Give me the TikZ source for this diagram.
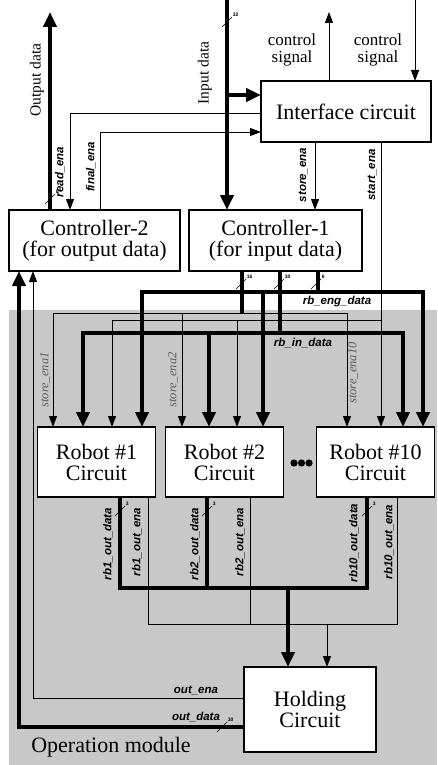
\documentclass[tikz,border=0pt]{standalone}
\usepackage{fontspec}
\setmainfont{Liberation Serif}
\setsansfont{Liberation Sans}
\usetikzlibrary{positioning, arrows.meta}

\definecolor{modgray}{RGB}{200,200,200}
\definecolor{enagray}{RGB}{90,90,90}

\newcommand{\buswidth}[2]{\draw[line width=0.6pt] (#1) ++(-5,5) -- ++(10,-10) node[busnum] {#2};}

\begin{document}
\begin{tikzpicture}[
    x=1pt, y=-1pt,
    >={Triangle[length=11pt, width=8pt]},
    block/.style = {draw, line width=1.8pt, fill=white, align=center, inner sep=0pt, outer sep=0pt,
                    font=\fontsize{22}{21}\selectfont},
    robot/.style = {minimum width=118pt, minimum height=70pt},
    bus/.style = {line width=4.5pt, >={Triangle[length=15pt, width=13pt]}},
    sig/.style = {line width=0.9pt},
    lbl/.style = {font=\sffamily\bfseries\itshape\fontsize{11.5}{12}\selectfont, inner sep=0pt},
    ena/.style = {font=\itshape\fontsize{12.5}{13}\selectfont, text=enagray, inner sep=0pt, rotate=90},
    busnum/.style = {font=\sffamily\bfseries\fontsize{5}{5}\selectfont, inner sep=0.5pt, anchor=south west},
    title/.style = {inner sep=0pt, font=\fontsize{15.5}{16}\selectfont},
    ctl/.style = {inner sep=0pt, align=center, font=\fontsize{17}{17}\selectfont}
]
    \useasboundingbox (0,0) rectangle (437,765);
    \fill[modgray] (9,310) rectangle (437,765);

    \node [block, minimum width=170pt, minimum height=61pt] (iface) at (346,111.5) {Interface circuit};
    \node [block, minimum width=171pt, minimum height=61pt] (ctrl2) at (94.5,240.5) {Controller-2\\(for output data)};
    \node [block, minimum width=173pt, minimum height=61pt, right=9pt of ctrl2] (ctrl1) {Controller-1\\(for input data)};
    \node [block, robot] (rob1) at (96.5,462) {Robot \#1\\Circuit};
    \node [block, robot, right=10pt of rob1] (rob2) {Robot \#2\\Circuit};
    \node [block, robot, right=33pt of rob2] (rob10) {Robot \#10\\Circuit};
    \node [block, minimum width=132pt, minimum height=85pt] (hold) at (310,709.5) {Holding\\Circuit};

    \coordinate (outd) at (50,12);
    \coordinate (ind) at (227,0);
    \coordinate (inbr) at (227,95);
    \coordinate (ctlo) at (329,12);
    \coordinate (ctli) at (415,0);
    \coordinate (rd) at (70,113);
    \coordinate (fn) at (100,132);
    \coordinate (st) at (315,0);
    \coordinate (sa) at (381,320);
    \coordinate (sa1) at (112,320);
    \coordinate (sa2) at (237,320);
    \coordinate (se) at (242,313);
    \coordinate (se1) at (53,313);
    \coordinate (se2) at (182,313);
    \coordinate (se10) at (347,313);
    \coordinate (eng) at (318,292);
    \coordinate (eng1) at (142,292);
    \coordinate (eng2) at (263,292);
    \coordinate (eng10) at (423,292);
    \coordinate (rin) at (280,333);
    \coordinate (rin1) at (83,333);
    \coordinate (rin2) at (209,333);
    \coordinate (rin10) at (403,333);
    \coordinate (od1) at (120,588);
    \coordinate (od2) at (207,588);
    \coordinate (od10) at (367,588);
    \coordinate (odh) at (288,588);
    \coordinate (oe1) at (148,624);
    \coordinate (oe2) at (250,624);
    \coordinate (oe10) at (397,624);
    \coordinate (oeh) at (327,624);
    \coordinate (hoe) at (33,698);
    \coordinate (hod) at (19,727);

    \draw[bus,->] (outd |- ctrl2.north) -- (outd);
    \draw[bus,->] (ind) -- (ind |- ctrl1.north);
    \draw[bus,->] (inbr) -- (inbr -| iface.west);
    \draw[sig,->] (ctlo |- iface.north) -- (ctlo);
    \draw[sig,->] (ctli) -- (ctli |- iface.north);
    \draw[sig,->] (rd -| iface.west) -| (rd |- ctrl2.north);
    \draw[sig,->] (fn |- ctrl2.north) |- (fn -| iface.west);
    \draw[sig,->] (st |- iface.south) -- (st |- ctrl1.north);

    \draw[sig,->] (sa |- iface.south) -- (sa |- rob10.north);
    \draw[sig,->] (sa) -- (sa1) -- (sa1 |- rob1.north);
    \draw[sig,->] (sa2) -- (sa2 |- rob2.north);
    \draw[bus] (se |- ctrl1.south) -- (se);
    \draw[sig,<->] (se1 |- rob1.north) -- (se1) -- (se10) -- (se10 |- rob10.north);
    \draw[sig,->] (se2) -- (se2 |- rob2.north);
    \draw[bus] (eng |- ctrl1.south) -- (eng);
    \draw[bus,<->] (eng1 |- rob1.north) -- (eng1) -- (eng10) -- (eng10 |- rob10.north);
    \draw[bus,->] (eng2) -- (eng2 |- rob2.north);
    \draw[bus] (rin |- ctrl1.south) -- (rin);
    \draw[bus,<->] (rin1 |- rob1.north) -- (rin1) -- (rin10) -- (rin10 |- rob10.north);
    \draw[bus,->] (rin2) -- (rin2 |- rob2.north);

    \draw[bus] (od1 |- rob1.south) -- (od1) -- (od10) -- (od10 |- rob10.south);
    \draw[bus] (od2 |- rob2.south) -- (od2);
    \draw[bus,->] (odh) -- (odh |- hold.north);
    \draw[sig] (oe1 |- rob1.south) -- (oe1) -- (oe10) -- (oe10 |- rob10.south);
    \draw[sig] (oe2 |- rob2.south) -- (oe2);
    \draw[sig,->] (oeh) -- (oeh |- hold.north);
    \draw[sig,->] (hoe -| hold.west) -- (hoe) -- (hoe |- ctrl2.south);
    \draw[bus,->] (hod -| hold.west) -- (hod) -- (hod |- ctrl2.south);

    \buswidth{50,199}{8}
    \buswidth{227,22}{32}
    \buswidth{241,284}{16}
    \buswidth{279,284}{30}
    \buswidth{316,284}{6}
    \buswidth{120,511}{3}
    \buswidth{207,511}{3}
    \buswidth{367,511}{3}
    \buswidth{222,727}{30}

    \foreach \dx in {294,301.5,309}
        \fill (\dx,463) circle (3.6pt);

    \node [title, rotate=90] (outlbl) at (37,80) {Output data};
    \node [title, rotate=90] (inlbl) at (205,73) {Input data};
    \node [ctl] (ctlolbl) at (292,50) {control\\signal};
    \node [ctl] (ctlilbl) at (378,50) {control\\signal};
    \node [lbl, rotate=90] (rdlbl) at (60,172) {read\_ena};
    \node [lbl, rotate=90] (fnlbl) at (91,167) {final\_ena};
    \node [lbl, rotate=90] (stlbl) at (303,175) {store\_ena};
    \node [lbl, rotate=90] (salbl) at (372,175) {start\_ena};
    \node [lbl] (englbl) at (337,302) {rb\_eng\_data};
    \node [lbl] (rinlbl) at (303,343) {rb\_in\_data};
    \node [ena] (se1lbl) at (45,380) {store\_ena1};
    \node [ena] (se2lbl) at (173,380) {store\_ena2};
    \node [ena] (se10lbl) at (353,373) {store\_ena10};
    \node [lbl, rotate=90] (od1lbl) at (108,544) {rb1\_out\_data};
    \node [lbl, rotate=90] (oe1lbl) at (137,542) {rb1\_out\_ena};
    \node [lbl, rotate=90] (od2lbl) at (195,544) {rb2\_out\_data};
    \node [lbl, rotate=90] (oe2lbl) at (240,542) {rb2\_out\_ena};
    \node [lbl, rotate=90] (od10lbl) at (354,543) {rb10\_out\_data};
    \node [lbl, rotate=90] (oe10lbl) at (389,542) {rb10\_out\_ena};
    \node [lbl] (hoelbl) at (196,690) {out\_ena};
    \node [lbl] (hodlbl) at (196,717) {out\_data};
    \node [inner sep=0pt, font=\fontsize{22}{22}\selectfont] (oplbl) at (111,747) {Operation module};
\end{tikzpicture}
\end{document}
